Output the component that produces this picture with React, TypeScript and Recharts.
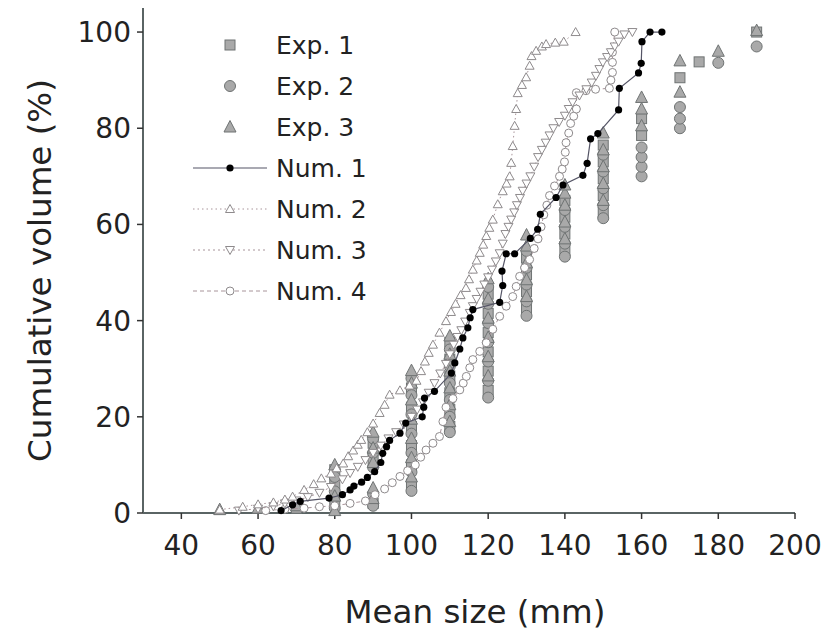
import React from 'react'
import { ScatterChart, Scatter, XAxis, YAxis, Legend } from 'recharts'

const FONT = '"DejaVu Sans", "Liberation Sans", sans-serif'
const TEXT = '#222'
const AXIS = '#5a6464'

const xTicks = [40, 60, 80, 100, 120, 140, 160, 180, 200]
const yTicks = [0, 20, 40, 60, 80, 100]

// sieve sizes of the measured columns
const expSizes = [50, 60, 70, 80, 90, 100, 110, 120, 130, 140, 150, 160, 170, 175, 180, 190]

const exp1Values = [
  [], [], [1], [2.5, 6, 9], [2, 11, 14.5], [6, 10, 14, 18, 22, 26],
  [18, 21.5, 25, 28.5, 32, 35.5], [25.5, 29.5, 33.5, 37.5, 41.5, 45.5],
  [42.5, 46, 49.5, 53], [54.5, 58, 61.5, 65], [62.5, 66, 69.5, 73, 76.5],
  [78.5, 82], [90.5], [93.8], [], [100],
]
const exp2Values = [
  [], [], [], [1, 4.5, 7.5], [1.5, 4, 9.5, 12.5, 15.5], [4.6, 8.5, 12.5, 16.5, 20.5, 24.5, 28],
  [16.8, 20, 23.5, 27, 30.5, 34], [24, 27.5, 31.5, 35.5, 39.5, 43.5, 47],
  [41, 44, 47.5, 51, 54.5], [53.3, 56, 59.5, 63], [61.3, 64, 67.5, 71, 74.5],
  [70, 72, 74, 76], [80, 82, 84.4], [], [93.6], [97],
]
const exp3Values = [
  [0.7], [1], [1.5], [0.5, 3.5, 10], [3, 5.2, 10.5, 13.5, 16.8], [7.5, 11.5, 15.5, 19.5, 23.5, 27, 29.6],
  [19, 22.5, 26, 29.5, 33, 36.8], [28.5, 32.5, 36.5, 40.5, 44.5, 48.7],
  [45, 48.5, 52, 55.5, 57.8], [57, 60.5, 64, 66.5, 68.2], [65, 68.5, 72, 75.5, 79],
  [80.5, 84, 86.4], [87.5, 94], [], [96], [100.3],
]

const num1X = [66, 69, 71, 78.5, 82, 84, 85, 87, 88.5, 90.4, 92, 92.5, 93.5, 94.3, 97, 98.5, 102.8, 103.2, 103.4, 106, 110.4, 111.3, 112.6, 113.4, 114.7, 115.3, 116, 123, 123.8, 123.6, 124.7, 126.9, 131, 132.9, 133.6, 137.7, 139.5, 144.7, 145.8, 146.7, 148.6, 154, 154.2, 159.2, 159.9, 160.1, 162.2, 165.3]
const num1Y = [0.5, 1.7, 2.4, 3.1, 3.8, 4.8, 5.6, 6.4, 7.4, 8.6, 10.5, 12.4, 13.8, 15.1, 16.6, 18.7, 20, 22, 23.9, 25.3, 29.1, 31.2, 34.1, 36.4, 38.5, 40.6, 42.3, 43.8, 47.3, 50.3, 53.9, 53.9, 57.1, 59, 62.1, 65.6, 68.2, 70.2, 72.7, 77.8, 78.9, 83.8, 88.3, 91.5, 93.5, 98, 100, 100]

const num2X = [50, 56, 60, 64, 67, 69, 72, 74.5, 76.5, 79, 80.5, 82.2, 83.5, 84.8, 86, 86.9, 88.5, 90, 91.7, 93, 94.3, 97, 99.5, 101.3, 102.5, 103.5, 104.5, 105.6, 107.3, 109, 110.3, 111.5, 112.8, 114.2, 115, 116, 117, 117.8, 118.7, 119.5, 120.3, 121.2, 122.5, 123.8, 124.8, 125.6, 126, 126.4, 126.9, 127.3, 127.7, 128.8, 129.9, 130.8, 131.3, 132.5, 134, 135.1, 137.5, 139.7, 142.8]
const num2Y = [0.7, 1.3, 1.8, 2.2, 2.8, 3.4, 4.8, 6, 7.2, 8.2, 9.3, 10.3, 11.8, 13, 14.2, 15.2, 16.8, 18.6, 20.8, 22.5, 24.6, 25.5, 26.5, 27.5, 29.5, 31.5, 33.3, 35, 37.5, 39.9, 41.8, 43.5, 45.3, 46.8, 48.6, 50.6, 52.5, 54.1, 55.8, 57.6, 59.3, 61, 64.2, 66.9, 68.5, 70, 72.8, 76.3, 80.5, 84, 87.3, 89, 90.6, 93, 95, 96.1, 97, 97.5, 97.8, 98, 100]

const num3X = [55, 60, 64, 67, 70, 73, 76, 79, 82, 84, 86, 88, 90, 92, 94, 96, 98, 100, 101.5, 103, 104.5, 106, 107.5, 109, 110, 111, 112, 113, 114, 115.2, 116, 117, 118, 119, 120, 121, 122, 123, 123.8, 124.5, 125.3, 126, 126.8, 127.5, 128.3, 129, 130, 131, 132, 133, 134, 135, 136, 137, 138.5, 140, 141, 142, 143.8, 145.6, 147, 148.1, 149, 149.9, 151, 152, 153, 154, 155.5, 157.6]
const num3Y = [0.5, 0.9, 1.4, 2, 2.6, 3.3, 4.2, 5.4, 7, 8.3, 9.6, 11, 12.5, 14, 15.5, 16.8, 18.4, 20, 21.5, 23, 25, 27, 29, 31, 33, 35, 36.6, 38, 39.8, 41.6, 43, 44.5, 46, 47.5, 49, 50.6, 52.3, 54, 56, 58, 59.5, 61, 62.5, 64, 65.5, 67, 68.5, 70, 72, 74, 75.5, 77, 78.5, 80, 81.3, 82.6, 84, 85.4, 86.8, 88.1, 89.5, 90.9, 92.3, 93.7, 94.8, 95.8, 97, 98, 99.5, 100]

const num4X = [62, 67, 72, 76, 80, 84, 88, 90.5, 93, 95, 97, 99, 101, 102.4, 103.8, 105.6, 107.3, 108.2, 109, 110.8, 112.6, 113.5, 114.3, 115.2, 116, 117.8, 119.5, 121.2, 123, 124.7, 126.4, 127.3, 128.2, 129.5, 130.8, 132, 133, 133.8, 134.5, 135.3, 136, 137.3, 138.6, 139.3, 139.9, 140.1, 140.3, 141, 141.5, 142.3, 143, 143, 145.5, 148, 151.6, 152, 152.4, 152.4, 152.4, 153]
const num4Y = [0.5, 0.8, 1, 1.3, 1.5, 2, 2.5, 3.8, 5, 6.3, 7.6, 8.8, 10, 11.6, 13.1, 14.5, 15.9, 19, 22, 23.8, 25.6, 27, 28.4, 30.2, 31.9, 33.6, 35.4, 38.2, 40.9, 43, 45, 47.1, 49.2, 51, 52.7, 55, 57, 59.5, 62, 64, 66, 68, 70, 71.5, 73, 75, 77, 79, 81, 82.5, 84, 87.4, 87.8, 88.1, 88.3, 90, 91.6, 93.7, 95.8, 100]

const legendLabels = ['Exp. 1', 'Exp. 2', 'Exp. 3', 'Num. 1', 'Num. 2', 'Num. 3', 'Num. 4']

const fromColumns = (values: number[][]) =>
  expSizes.flatMap((size, i) => values[i].map(v => ({ x: size, y: v })))
const zip = (xs: number[], ys: number[]) => xs.map((x, i) => ({ x, y: ys[i] }))

const exp1 = fromColumns(exp1Values)
const exp2 = fromColumns(exp2Values)
const exp3 = fromColumns(exp3Values)
const num1 = zip(num1X, num1Y)
const num2 = zip(num2X, num2Y)
const num3 = zip(num3X, num3Y)
const num4 = zip(num4X, num4Y)

const EXP_FILL = '#a9a9a9'
const EXP_STROKE = '#6f7373'
const NUM_STROKE = '#8e8a8c'
const NUM_LINE = '#a8949a'

const SquareMark = ({ cx, cy }: any) => (
  <rect x={cx - 5} y={cy - 5} width={10} height={10} fill={EXP_FILL} stroke={EXP_STROKE} strokeWidth={1} />
)
const CircleMark = ({ cx, cy }: any) => (
  <circle cx={cx} cy={cy} r={5.5} fill={EXP_FILL} stroke={EXP_STROKE} strokeWidth={1} />
)
const TriangleMark = ({ cx, cy }: any) => (
  <path d={`M${cx},${cy - 6.5}L${cx + 6},${cy + 5}L${cx - 6},${cy + 5}Z`} fill={EXP_FILL} stroke={EXP_STROKE} strokeWidth={1} />
)
const BlackDot = ({ cx, cy }: any) => <circle cx={cx} cy={cy} r={3.6} fill="#000" />
const OpenUp = ({ cx, cy }: any) => (
  <path d={`M${cx},${cy - 4.5}L${cx + 4.5},${cy + 3.5}L${cx - 4.5},${cy + 3.5}Z`} fill="#fff" stroke={NUM_STROKE} strokeWidth={1} />
)
const OpenDown = ({ cx, cy }: any) => (
  <path d={`M${cx},${cy + 4.5}L${cx + 4.5},${cy - 3.5}L${cx - 4.5},${cy - 3.5}Z`} fill="#fff" stroke={NUM_STROKE} strokeWidth={1} />
)
const OpenCircle = ({ cx, cy }: any) => (
  <circle cx={cx} cy={cy} r={4} fill="#fff" stroke={NUM_STROKE} strokeWidth={1} />
)

const legendSymbols = [
  (cx: number, cy: number) => <SquareMark cx={cx} cy={cy} />,
  (cx: number, cy: number) => <CircleMark cx={cx} cy={cy} />,
  (cx: number, cy: number) => <TriangleMark cx={cx} cy={cy} />,
  (cx: number, cy: number) => <g><line x1={cx - 37} x2={cx + 37} y1={cy} y2={cy} stroke="#556" strokeWidth={1.2} /><BlackDot cx={cx} cy={cy} /></g>,
  (cx: number, cy: number) => <g><line x1={cx - 37} x2={cx + 37} y1={cy} y2={cy} stroke={NUM_LINE} strokeDasharray="1.5 3" /><OpenUp cx={cx} cy={cy} /></g>,
  (cx: number, cy: number) => <g><line x1={cx - 37} x2={cx + 37} y1={cy} y2={cy} stroke={NUM_LINE} strokeDasharray="2 3" /><OpenDown cx={cx} cy={cy} /></g>,
  (cx: number, cy: number) => <g><line x1={cx - 37} x2={cx + 37} y1={cy} y2={cy} stroke={NUM_LINE} strokeDasharray="4 3" /><OpenCircle cx={cx} cy={cy} /></g>,
]

function LegendBox() {
  return (
    <svg width={220} height={300}>
      {legendLabels.map((label, i) => {
        const cy = 21 + i * 41
        return (
          <g key={label}>
            {legendSymbols[i](46, cy)}
            <text x={92} y={cy} dominantBaseline="central" fontSize={25} fontFamily={FONT} fill={TEXT}>{label}</text>
          </g>
        )
      })}
    </svg>
  )
}

const YLabel = ({ viewBox }: any) => (
  <text
    x={viewBox.x + 40}
    y={viewBox.y + viewBox.height / 2 + 10}
    transform={`rotate(-90, ${viewBox.x + 40}, ${viewBox.y + viewBox.height / 2 + 10})`}
    textAnchor="middle"
    dominantBaseline="central"
    fontSize={32.5}
    fontFamily={FONT}
    fill={TEXT}
  >
    Cumulative volume (%)
  </text>
)

const XLabel = ({ viewBox }: any) => (
  <text
    x={viewBox.x + viewBox.width / 2 + 6}
    y={viewBox.y + 99}
    textAnchor="middle"
    dominantBaseline="central"
    fontSize={32.5}
    fontFamily={FONT}
    fill={TEXT}
  >
    Mean size (mm)
  </text>
)

const tickStyle = { fontSize: 28, fontFamily: FONT, fill: TEXT }

export default function App() {
  return (
    <div style={{ position: 'absolute', left: 0, top: 0, background: '#fff' }}>
      <ScatterChart width={830} height={640} margin={{ top: 8, right: 35, bottom: 0, left: 0 }}>
        <XAxis
          type="number"
          dataKey="x"
          domain={[30, 200]}
          ticks={xTicks}
          height={127}
          tickSize={6}
          tickMargin={16}
          tick={tickStyle}
          stroke={AXIS}
          axisLine={{ stroke: AXIS, strokeWidth: 2 }}
          tickLine={{ stroke: '#333', strokeWidth: 1.5 }}
          label={<XLabel />}
        />
        <YAxis
          type="number"
          dataKey="y"
          domain={[0, 105]}
          ticks={yTicks}
          width={143}
          tickSize={6}
          tickMargin={6}
          tick={tickStyle}
          stroke={AXIS}
          axisLine={{ stroke: AXIS, strokeWidth: 2 }}
          tickLine={{ stroke: '#333', strokeWidth: 1.5 }}
          label={<YLabel />}
        />
        <Legend
          layout="horizontal"
          verticalAlign="middle"
          align="center"
          wrapperStyle={{ left: 184, top: 24, width: 220, height: 300 }}
          content={() => <LegendBox />}
        />
        <Scatter name="Exp. 1" data={exp1} shape={SquareMark} isAnimationActive={false} />
        <Scatter name="Exp. 2" data={exp2} shape={CircleMark} isAnimationActive={false} />
        <Scatter name="Exp. 3" data={exp3} shape={TriangleMark} isAnimationActive={false} />
        <Scatter name="Num. 4" data={num4} shape={OpenCircle} line={{ stroke: NUM_LINE, strokeWidth: 1, strokeDasharray: '4 3' }} isAnimationActive={false} />
        <Scatter name="Num. 3" data={num3} shape={OpenDown} line={{ stroke: NUM_LINE, strokeWidth: 1, strokeDasharray: '2 3' }} isAnimationActive={false} />
        <Scatter name="Num. 2" data={num2} shape={OpenUp} line={{ stroke: NUM_LINE, strokeWidth: 1, strokeDasharray: '1.5 3' }} isAnimationActive={false} />
        <Scatter name="Num. 1" data={num1} shape={BlackDot} line={{ stroke: '#556', strokeWidth: 1.2 }} isAnimationActive={false} />
      </ScatterChart>
    </div>
  )
}
